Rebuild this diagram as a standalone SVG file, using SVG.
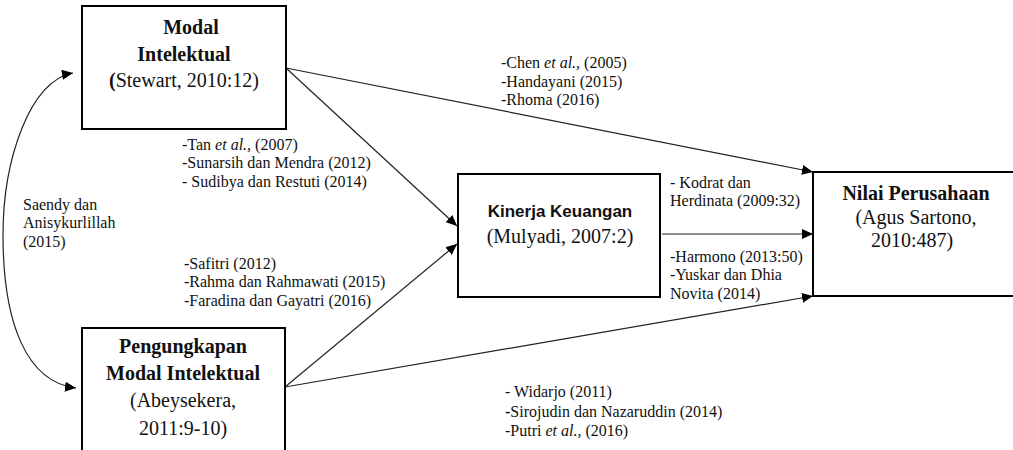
<svg xmlns="http://www.w3.org/2000/svg" width="1013" height="450" viewBox="0 0 1013 450">
<style>
.box{fill:#fff;stroke:#000;stroke-width:2}
.t{font-family:"Liberation Serif","Times New Roman",serif;fill:#111}
.n{font-size:20px}
.b{font-weight:bold}
.l{font-size:16px}
.s{font-family:"Liberation Sans",Arial,sans-serif;font-weight:bold;font-size:17px;fill:#111}
.c{fill:none;stroke:#222;stroke-width:1.2}
</style>
<defs>
<marker id="ah" markerUnits="userSpaceOnUse" markerWidth="12" markerHeight="10" refX="11" refY="5" orient="auto">
<path d="M0,0 L11,5 L0,10 Z" fill="#000"/>
</marker>
<marker id="ahs" markerUnits="userSpaceOnUse" markerWidth="12" markerHeight="10" refX="0" refY="5" orient="auto">
<path d="M11,0 L0,5 L11,10 Z" fill="#000"/>
</marker>
</defs>
<g id="connectors">
<line class="c" x1="286" y1="68" x2="813" y2="172" marker-end="url(#ah)"/>
<line class="c" x1="286" y1="68" x2="457" y2="226" marker-end="url(#ah)"/>
<line class="c" x1="285" y1="387" x2="457" y2="244" marker-end="url(#ah)"/>
<line class="c" x1="285" y1="387" x2="813" y2="296" marker-end="url(#ah)"/>
<line class="c" x1="662" y1="234" x2="813" y2="234" marker-end="url(#ah)"/>
<path class="c" d="M73,73 C30,80 3,160 3,235 C3,322 26,382 76,388" marker-start="url(#ahs)" marker-end="url(#ah)"/>
</g>
<g id="node-modal-intelektual">
<rect class="box" x="82" y="6" width="204" height="123"/>
<text class="t n b" x="191" y="34" text-anchor="middle">Modal</text>
<text class="t n b" x="184" y="61" text-anchor="middle">Intelektual</text>
<text class="t n" x="184" y="87" text-anchor="middle"><tspan font-weight="bold">(</tspan>Stewart, 2010:12)</text>
</g>
<g id="node-pengungkapan">
<rect class="box" x="82" y="328" width="203" height="135"/>
<text class="t n b" x="183" y="353" text-anchor="middle">Pengungkapan</text>
<text class="t n b" x="183" y="380" text-anchor="middle">Modal Intelektual</text>
<text class="t n" x="183" y="407" text-anchor="middle">(Abeysekera,</text>
<text class="t n" x="183" y="435" text-anchor="middle">2011:9-10)</text>
</g>
<g id="node-kinerja-keuangan">
<rect class="box" x="458" y="174" width="202" height="123"/>
<text class="s" x="560" y="217" text-anchor="middle">Kinerja Keuangan</text>
<text class="t n" x="560" y="243" text-anchor="middle">(Mulyadi, 2007:2)</text>
</g>
<g id="node-nilai-perusahaan">
<rect class="box" x="813" y="172" width="220" height="124"/>
<text class="t n b" x="916" y="200" text-anchor="middle">Nilai Perusahaan</text>
<text class="t n" x="916" y="224" text-anchor="middle">(Agus Sartono,</text>
<text class="t n" x="912" y="247" text-anchor="middle">2010:487)</text>
</g>
<g id="labels">
<text class="t l" x="501" y="68"><tspan>-Chen </tspan><tspan font-style="italic">et al.,</tspan><tspan> (2005)</tspan></text>
<text class="t l" x="501" y="87">-Handayani (2015)</text>
<text class="t l" x="501" y="105">-Rhoma (2016)</text>
<text class="t l" x="182" y="150"><tspan>-Tan </tspan><tspan font-style="italic">et al.,</tspan><tspan> (2007)</tspan></text>
<text class="t l" x="182" y="168">-Sunarsih dan Mendra (2012)</text>
<text class="t l" x="182" y="187">- Sudibya dan Restuti (2014)</text>
<text class="t l" x="23" y="210">Saendy dan</text>
<text class="t l" x="23" y="228">Anisykurlillah</text>
<text class="t l" x="23" y="247">(2015)</text>
<text class="t l" x="184" y="269">-Safitri (2012)</text>
<text class="t l" x="184" y="287">-Rahma dan Rahmawati (2015)</text>
<text class="t l" x="184" y="306">-Faradina dan Gayatri (2016)</text>
<text class="t l" x="670" y="188">-  Kodrat dan</text>
<text class="t l" x="670" y="206">Herdinata (2009:32)</text>
<text class="t l" x="670" y="262">-Harmono (2013:50)</text>
<text class="t l" x="670" y="280">-Yuskar dan Dhia</text>
<text class="t l" x="670" y="299">Novita (2014)</text>
<text class="t l" x="505" y="397">- Widarjo (2011)</text>
<text class="t l" x="505" y="417"><tspan font-weight="bold">-</tspan>Sirojudin dan Nazaruddin (2014)</text>
<text class="t l" x="505" y="436"><tspan>-Putri </tspan><tspan font-style="italic">et al.,</tspan><tspan> (2016)</tspan></text>
</g>
</svg>
